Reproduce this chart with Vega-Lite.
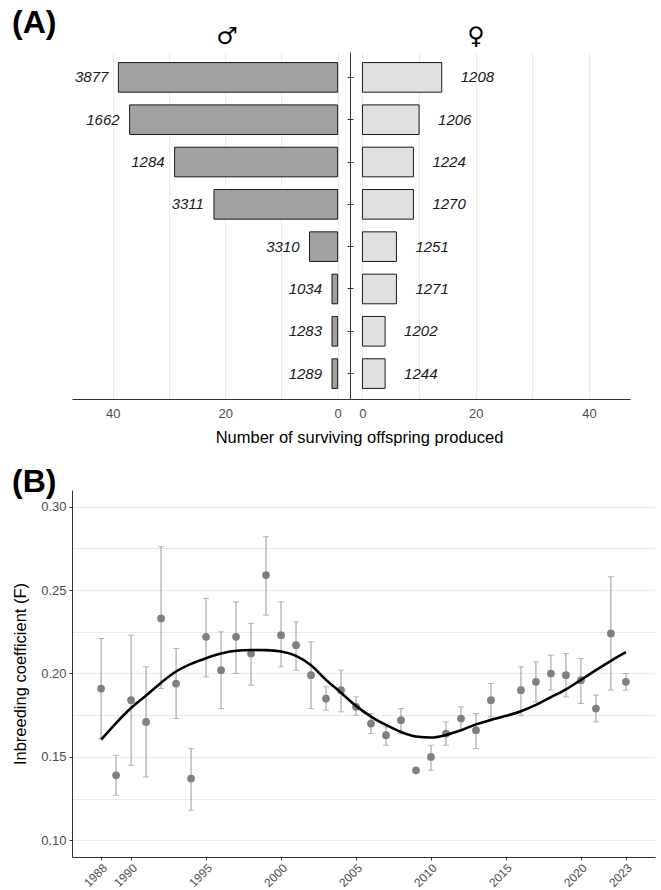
{
  "$schema": "https://vega.github.io/schema/vega-lite/v6.json",
  "padding": {"left": 12, "top": 7, "right": 5, "bottom": 5},
  "config": {
    "font": "Liberation Sans",
    "view": {"stroke": null},
    "axis": {"labelColor": "#4d4d4d", "titleColor": "#1a1a1a", "domainColor": "#333333", "tickColor": "#333333", "gridColor": "#ebebeb", "gridWidth": 1, "titleFontWeight": "normal"},
    "title": {"fontWeight": "normal", "color": "#1a1a1a"}
  },
  "datasets": {
    "male": [
      {"rank": 1, "id": "3877", "n": 39},
      {"rank": 2, "id": "1662", "n": 37},
      {"rank": 3, "id": "1284", "n": 29},
      {"rank": 4, "id": "3311", "n": 22},
      {"rank": 5, "id": "3310", "n": 5},
      {"rank": 6, "id": "1034", "n": 1},
      {"rank": 7, "id": "1283", "n": 1},
      {"rank": 8, "id": "1289", "n": 1}
    ],
    "female": [
      {"rank": 1, "id": "1208", "n": 14},
      {"rank": 2, "id": "1206", "n": 10},
      {"rank": 3, "id": "1224", "n": 9},
      {"rank": 4, "id": "1270", "n": 9},
      {"rank": 5, "id": "1251", "n": 6},
      {"rank": 6, "id": "1271", "n": 6},
      {"rank": 7, "id": "1202", "n": 4},
      {"rank": 8, "id": "1244", "n": 4}
    ],
    "inbreeding": [
      {"year": 1988, "F": 0.191, "lo": 0.161, "hi": 0.221},
      {"year": 1989, "F": 0.139, "lo": 0.127, "hi": 0.151},
      {"year": 1990, "F": 0.184, "lo": 0.145, "hi": 0.223},
      {"year": 1991, "F": 0.171, "lo": 0.138, "hi": 0.204},
      {"year": 1992, "F": 0.233, "lo": 0.191, "hi": 0.276},
      {"year": 1993, "F": 0.194, "lo": 0.173, "hi": 0.215},
      {"year": 1994, "F": 0.137, "lo": 0.118, "hi": 0.155},
      {"year": 1995, "F": 0.222, "lo": 0.198, "hi": 0.245},
      {"year": 1996, "F": 0.202, "lo": 0.179, "hi": 0.225},
      {"year": 1997, "F": 0.222, "lo": 0.200, "hi": 0.243},
      {"year": 1998, "F": 0.212, "lo": 0.193, "hi": 0.230},
      {"year": 1999, "F": 0.259, "lo": 0.235, "hi": 0.282},
      {"year": 2000, "F": 0.223, "lo": 0.204, "hi": 0.243},
      {"year": 2001, "F": 0.217, "lo": 0.202, "hi": 0.231},
      {"year": 2002, "F": 0.199, "lo": 0.179, "hi": 0.219},
      {"year": 2003, "F": 0.185, "lo": 0.178, "hi": 0.192},
      {"year": 2004, "F": 0.190, "lo": 0.177, "hi": 0.202},
      {"year": 2005, "F": 0.180, "lo": 0.175, "hi": 0.186},
      {"year": 2006, "F": 0.170, "lo": 0.164, "hi": 0.176},
      {"year": 2007, "F": 0.163, "lo": 0.157, "hi": 0.168},
      {"year": 2008, "F": 0.172, "lo": 0.164, "hi": 0.179},
      {"year": 2009, "F": 0.142, "lo": 0.142, "hi": 0.142},
      {"year": 2010, "F": 0.150, "lo": 0.142, "hi": 0.157},
      {"year": 2011, "F": 0.164, "lo": 0.157, "hi": 0.171},
      {"year": 2012, "F": 0.173, "lo": 0.166, "hi": 0.180},
      {"year": 2013, "F": 0.166, "lo": 0.155, "hi": 0.176},
      {"year": 2014, "F": 0.184, "lo": 0.174, "hi": 0.194},
      {"year": 2016, "F": 0.190, "lo": 0.175, "hi": 0.204},
      {"year": 2017, "F": 0.195, "lo": 0.183, "hi": 0.207},
      {"year": 2018, "F": 0.200, "lo": 0.190, "hi": 0.211},
      {"year": 2019, "F": 0.199, "lo": 0.186, "hi": 0.212},
      {"year": 2020, "F": 0.196, "lo": 0.182, "hi": 0.209},
      {"year": 2021, "F": 0.179, "lo": 0.171, "hi": 0.187},
      {"year": 2022, "F": 0.224, "lo": 0.190, "hi": 0.258},
      {"year": 2023, "F": 0.195, "lo": 0.190, "hi": 0.200}
    ],
    "smooth": [
      {"year": 1988, "F": 0.1603}, {"year": 1989, "F": 0.1703}, {"year": 1990, "F": 0.1793},
      {"year": 1991, "F": 0.1868}, {"year": 1992, "F": 0.1945}, {"year": 1993, "F": 0.2012},
      {"year": 1994, "F": 0.2058}, {"year": 1995, "F": 0.2092}, {"year": 1996, "F": 0.2120},
      {"year": 1997, "F": 0.2136}, {"year": 1998, "F": 0.2141}, {"year": 1999, "F": 0.2140},
      {"year": 2000, "F": 0.2132}, {"year": 2001, "F": 0.2106}, {"year": 2002, "F": 0.2050},
      {"year": 2003, "F": 0.1962}, {"year": 2004, "F": 0.1885}, {"year": 2005, "F": 0.1806},
      {"year": 2006, "F": 0.1742}, {"year": 2007, "F": 0.1692}, {"year": 2008, "F": 0.1649},
      {"year": 2009, "F": 0.1622}, {"year": 2010, "F": 0.1616}, {"year": 2011, "F": 0.1632},
      {"year": 2012, "F": 0.1660}, {"year": 2013, "F": 0.1695}, {"year": 2014, "F": 0.1722},
      {"year": 2015, "F": 0.1746}, {"year": 2016, "F": 0.1774}, {"year": 2017, "F": 0.1812},
      {"year": 2018, "F": 0.1858}, {"year": 2019, "F": 0.1905}, {"year": 2020, "F": 0.1962},
      {"year": 2021, "F": 0.2020}, {"year": 2022, "F": 0.2076}, {"year": 2023, "F": 0.2128}
    ]
  },
  "spacing": 20,
  "vconcat": [
    {
      "title": {"text": "(A)", "anchor": "start", "frame": "group", "fontSize": 32, "fontWeight": "bold", "color": "#000000", "dx": -60, "dy": 19},
      "spacing": 0,
      "bounds": "flush",
      "hconcat": [
        {
          "width": 278,
          "height": 347,
          "title": {"text": "♂", "font": "DejaVu Sans", "fontSize": 24, "dx": 16, "offset": 3, "color": "#000000"},
          "data": {"name": "male"},
          "encoding": {
            "y": {"field": "rank", "type": "ordinal", "scale": {"paddingInner": 0.3, "paddingOuter": 0.25},
              "axis": {"orient": "right", "labels": false, "domain": false, "ticks": true, "tickSize": 3, "title": null, "grid": false}}
          },
          "layer": [
            {
              "mark": {"type": "bar", "fill": "#a1a1a1", "stroke": "#1a1a1a", "strokeWidth": 1},
              "encoding": {
                "x": {"field": "n", "type": "quantitative",
                  "scale": {"domain": [-2.2, 47.25], "reverse": true, "nice": false, "zero": false},
                  "axis": {"values": [0, 10, 20, 30, 40], "labelExpr": "datum.value % 20 == 0 ? datum.label : ''", "ticks": false, "title": null, "grid": true, "labelFontSize": 13, "labelPadding": 8}},
                "x2": {"datum": 0}
              }
            },
            {
              "mark": {"type": "text", "align": "right", "baseline": "middle", "dx": -10, "fontStyle": "italic", "fontSize": 15, "color": "#1a1a1a"},
              "encoding": {
                "x": {"field": "n", "type": "quantitative"},
                "text": {"field": "id", "type": "nominal"}
              }
            }
          ]
        },
        {
          "width": 280,
          "height": 347,
          "title": {"text": "♀", "font": "DejaVu Sans", "fontSize": 24, "dx": -14, "offset": 3, "color": "#000000"},
          "data": {"name": "female"},
          "encoding": {
            "y": {"field": "rank", "type": "ordinal", "scale": {"paddingInner": 0.3, "paddingOuter": 0.25},
              "axis": {"orient": "left", "labels": false, "domain": true, "ticks": true, "tickSize": 3, "title": null, "grid": false}}
          },
          "layer": [
            {
              "mark": {"type": "bar", "fill": "#e0e0e0", "stroke": "#1a1a1a", "strokeWidth": 1},
              "encoding": {
                "x": {"field": "n", "type": "quantitative",
                  "scale": {"domain": [-2.2, 47.25], "nice": false, "zero": false},
                  "axis": {"values": [0, 10, 20, 30, 40], "labelExpr": "datum.value % 20 == 0 ? datum.label : ''", "ticks": false, "grid": true, "labelFontSize": 13, "labelPadding": 8,
                    "title": "Number of surviving offspring produced", "titleFontSize": 16.5, "titleColor": "#000000", "titleX": 9, "titlePadding": 9}},
                "x2": {"datum": 0}
              }
            },
            {
              "mark": {"type": "text", "align": "left", "baseline": "middle", "dx": 19, "fontStyle": "italic", "fontSize": 15, "color": "#1a1a1a"},
              "encoding": {
                "x": {"field": "n", "type": "quantitative"},
                "text": {"field": "id", "type": "nominal"}
              }
            }
          ]
        }
      ]
    },
    {
      "width": 583,
      "height": 367,
      "title": {"text": "(B)", "anchor": "start", "frame": "group", "fontSize": 32, "fontWeight": "bold", "color": "#000000", "dx": -60, "dy": 13},
      "layer": [
        {
          "data": {"name": "inbreeding"},
          "mark": {"type": "errorbar", "rule": {"color": "#999999", "strokeWidth": 1}, "ticks": {"color": "#999999", "size": 6, "thickness": 1}},
          "encoding": {
            "x": {"field": "year", "type": "quantitative",
              "scale": {"domain": [1986.06, 2024.94], "nice": false, "zero": false},
              "axis": {"values": [1988, 1990, 1995, 2000, 2005, 2010, 2015, 2020, 2023], "format": "d", "labelAngle": -45, "labelAlign": "right", "labelBaseline": "top", "labelFontSize": 12, "labelPadding": 2, "tickSize": 3, "grid": false, "title": null}},
            "y": {"field": "lo", "type": "quantitative",
              "scale": {"domain": [0.09, 0.31], "nice": false, "zero": false},
              "axis": {"values": [0.1, 0.125, 0.15, 0.175, 0.2, 0.225, 0.25, 0.275, 0.3],
                "labelExpr": "round(datum.value*40) % 2 == 0 ? format(datum.value, '.2f') : ''",
                "tickOpacity": {"condition": {"test": "round(datum.value*40) % 2 == 0", "value": 1}, "value": 0},
                "tickSize": 3, "grid": true, "labelFontSize": 13, "labelPadding": 3,
                "title": "Inbreeding coefficient (F)", "titleFontSize": 16.5, "titleColor": "#000000", "titlePadding": 12}},
            "y2": {"field": "hi"}
          }
        },
        {
          "data": {"name": "inbreeding"},
          "mark": {"type": "point", "filled": true, "size": 60, "color": "#808080", "opacity": 1},
          "encoding": {
            "x": {"field": "year", "type": "quantitative"},
            "y": {"field": "F", "type": "quantitative"}
          }
        },
        {
          "data": {"name": "smooth"},
          "mark": {"type": "line", "interpolate": "monotone", "color": "#000000", "strokeWidth": 2.6},
          "encoding": {
            "x": {"field": "year", "type": "quantitative"},
            "y": {"field": "F", "type": "quantitative"}
          }
        }
      ]
    }
  ]
}
